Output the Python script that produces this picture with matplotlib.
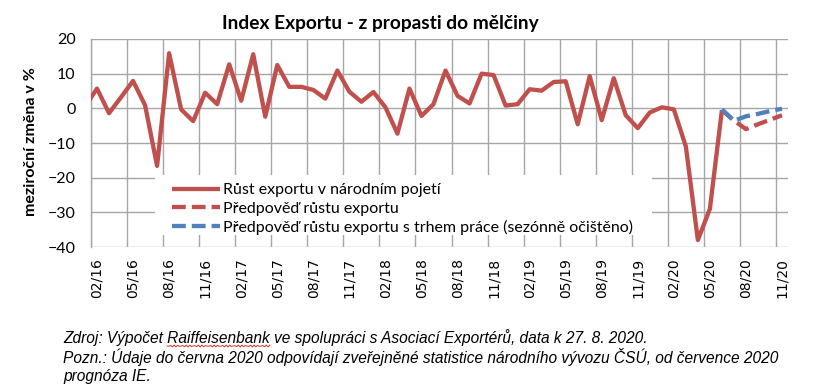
import matplotlib
matplotlib.use("Agg")
import matplotlib.pyplot as plt
from matplotlib.patches import Rectangle
from matplotlib.lines import Line2D
import numpy as np

# ---- data ----
months = ["01/16", "02/16", "03/16", "04/16", "05/16", "06/16", "07/16", "08/16", "09/16", "10/16", "11/16", "12/16",
          "01/17", "02/17", "03/17", "04/17", "05/17", "06/17", "07/17", "08/17", "09/17", "10/17", "11/17", "12/17",
          "01/18", "02/18", "03/18", "04/18", "05/18", "06/18", "07/18", "08/18", "09/18", "10/18", "11/18", "12/18",
          "01/19", "02/19", "03/19", "04/19", "05/19", "06/19", "07/19", "08/19", "09/19", "10/19", "11/19", "12/19",
          "01/20", "02/20", "03/20", "04/20", "05/20", "06/20", "07/20", "08/20", "09/20", "10/20", "11/20"]

export_growth = [0.5, 5.7, -1.4, 3.2, 7.9, 0.9, -16.6, 15.9, -0.3, -3.7, 4.5, 1.2,
                 12.7, 2.2, 15.6, -2.4, 12.5, 6.2, 6.2, 5.3, 2.8, 10.9, 4.8, 1.9,
                 4.7, 0.3, -7.3, 5.7, -2.2, 1.2, 10.9, 3.6, 1.4, 10.0, 9.6, 0.8,
                 1.2, 5.5, 5.1, 7.6, 7.8, -4.6, 9.3, -3.4, 8.7, -2.0, -5.7, -1.2,
                 0.3, -0.3, -11.0, -38.0, -29.0, -0.5]
forecast_months = ["06/20", "07/20", "08/20", "09/20", "10/20", "11/20"]
forecast = [-0.5, -3.5, -6.0, -4.6, -3.3, -2.0]
forecast_labour = [-0.3, -3.6, -2.3, -1.6, -0.8, -0.1]

tick_labels = ["02/16", "05/16", "08/16", "11/16", "02/17", "05/17", "08/17", "11/17",
               "02/18", "05/18", "08/18", "11/18", "02/19", "05/19", "08/19", "11/19",
               "02/20", "05/20", "08/20", "11/20"]

legend_labels = ["Růst exportu v národním pojetí",
                 "Předpověď růstu exportu",
                 "Předpověď růstu exportu s trhem práce (sezónně očištěno)"]

title = "Index Exportu - z propasti do mělčiny"
ylabel = "meziroční změna v %"
note_lines = ["Zdroj: Výpočet Raiffeisenbank ve spolupráci s Asociací Exportérů, data k 27. 8. 2020.",
              "Pozn.: Údaje do června 2020 odpovídají zveřejněné statistice národního vývozu ČSÚ, od července 2020",
              "prognóza IE."]

# ---- plot ----
RED = "#C0504D"
BLUE = "#4F81BD"
GRID = "#A6A6A6"
FONT = ["Lato", "DejaVu Sans"]

W, H = 829, 391
fig = plt.figure(figsize=(W / 100, H / 100), dpi=100)
ax = fig.add_axes([91 / W, 1 - 247 / H, 697 / W, 208 / H])

pos = {m: i - 1 for i, m in enumerate(months)}  # 02/16 -> 0
x_act = [pos[m] for m in months[:len(export_growth)]]
x_fc = [pos[m] for m in forecast_months]

ax.plot(x_act, export_growth, color=RED, lw=3.1, solid_joinstyle="round",
        solid_capstyle="butt", zorder=4, label=legend_labels[0])
ax.plot(x_fc, forecast, color=RED, lw=3.1, dashes=(3.2, 1.4), zorder=4,
        label=legend_labels[1])
ax.plot(x_fc, forecast_labour, color=BLUE, lw=3.1, dashes=(3.2, 1.4), zorder=5,
        label=legend_labels[2])

ax.set_xlim(-0.5, len(months) - 1.5)
ax.set_ylim(-40, 20)
ax.set_yticks(np.arange(-40, 21, 10))

tick_pos = [pos[m] for m in tick_labels]
ax.set_xticks(tick_pos)
ax.set_xticklabels(tick_labels, rotation=90, family="DejaVu Sans", fontsize=10)
ax.set_xticks([p - 0.5 for p in tick_pos], minor=True)
ax.tick_params(axis="x", which="both", length=0, pad=8)
ax.tick_params(axis="y", length=0, pad=11, labelsize=11.5)
for lab in ax.get_yticklabels():
    lab.set_family(FONT)

ax.grid(axis="y", which="major", color=GRID, lw=1.0, zorder=1)
ax.grid(axis="x", which="minor", color=GRID, lw=1.0, zorder=1)
ax.set_axisbelow(True)
for s in ["top", "right", "bottom"]:
    ax.spines[s].set_visible(False)
ax.spines["left"].set_color(GRID)
ax.spines["left"].set_linewidth(1.0)

# legend background (covers gridlines)
x0, x1 = (155 - 91) / 697, (652 - 91) / 697
y0, y1 = (247 - 235) / 208, (247 - 175) / 208
ax.add_patch(Rectangle((x0, y0), x1 - x0, y1 - y0, transform=ax.transAxes,
                       facecolor="white", edgecolor="none", zorder=3))
leg = ax.legend(loc="upper left", bbox_to_anchor=(161 / W, 1 - 172 / H),
                bbox_transform=fig.transFigure, frameon=False,
                prop={"family": FONT, "size": 11.5}, handlelength=3.0,
                handletextpad=0.2, labelspacing=0.25, borderpad=0.2)
leg.set_zorder(6)

ax.set_ylabel(ylabel, family=FONT, fontweight="bold", fontsize=11.5)
ax.yaxis.set_label_coords((38 - 91) / 697, (247 - 142) / 208)

fig.text(380 / W, 1 - 23 / H, title, ha="center", va="center",
         family=FONT, fontweight="bold", fontsize=13.8)

note_ys = [338, 357, 376]
for ln, yy in zip(note_lines, note_ys):
    fig.text(63 / W, 1 - yy / H, ln, ha="left", va="center",
             family="Liberation Sans", style="italic", fontsize=11.2)

# spell-check style wavy underline under "Raiffeisenbank"
fig.canvas.draw()
r = fig.canvas.get_renderer()
pre = fig.text(0, 0, "Zdroj: Výpočet ", family="Liberation Sans", style="italic", fontsize=11.2)
word = fig.text(0, 0, "Raiffeisenbank", family="Liberation Sans", style="italic", fontsize=11.2)
wpre = pre.get_window_extent(r).width
wword = word.get_window_extent(r).width
pre.remove(); word.remove()
xs_px = np.linspace(63 + wpre, 63 + wpre + wword, 60)
ys_px = 346 + 1.0 * np.sin((xs_px - xs_px[0]) / 2.0 * np.pi)
fig.add_artist(Line2D(xs_px / W, 1 - ys_px / H, transform=fig.transFigure,
                      color="#E03030", lw=0.7))

fig.savefig("out.png", dpi=100)
